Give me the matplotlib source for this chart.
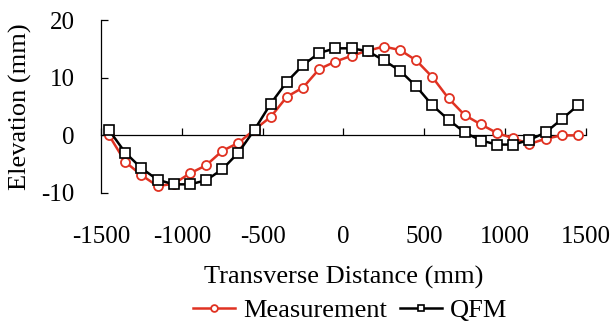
import matplotlib
matplotlib.use("Agg")
import matplotlib.pyplot as plt
import numpy as np

plt.rcParams['font.family'] = ['Liberation Serif', 'DejaVu Serif']
plt.rcParams['axes.unicode_minus'] = False

# transverse positions (mm), one reading every 100 mm
distance = np.arange(-1450, 1451, 100)

measurement = [0.0, -4.6, -6.9, -8.8, -8.4, -6.6, -5.2, -2.7, -1.3, 1.0,
               3.2, 6.7, 8.3, 11.5, 12.8, 13.8, 14.7, 15.4, 14.8, 13.0,
               10.1, 6.4, 3.5, 1.9, 0.4, -0.5, -1.5, -0.6, 0.0, 0.0]

qfm = [0.9, -3.0, -5.7, -7.7, -8.5, -8.5, -7.8, -5.9, -3.0, 1.0,
       5.5, 9.3, 12.2, 14.3, 15.1, 15.1, 14.6, 13.0, 11.2, 8.5,
       5.2, 2.7, 0.5, -0.9, -1.6, -1.6, -0.8, 0.5, 2.8, 5.2]

xticks = [-1500, -1000, -500, 0, 500, 1000, 1500]
yticks = [-10, 0, 10, 20]

red = '#E03222'

fig = plt.figure(figsize=(6.12, 3.29), dpi=100)
ax = fig.add_axes([0.165, 0.4134, 0.7925, 0.5256])

ax.plot(distance, measurement, color=red, lw=1.8, marker='o', ms=6.5,
        mfc='white', mec=red, mew=1.3, label='Measurement', zorder=3)
ax.plot(distance, qfm, color='black', lw=1.8, marker='s', ms=6.5,
        mfc='white', mec='black', mew=1.2, label='QFM', zorder=4)

ax.set_xlim(-1500, 1500)
ax.set_ylim(-10, 20)
ax.set_xticks(xticks)
ax.set_yticks(yticks)

for s in ['top', 'right']:
    ax.spines[s].set_visible(False)
ax.spines['bottom'].set_position(('data', 0))
ax.spines['bottom'].set_linewidth(0.9)
ax.spines['left'].set_linewidth(0.9)

ax.tick_params(axis='x', direction='in', length=5, width=0.9, pad=65, labelsize=18)
ax.tick_params(axis='y', direction='in', length=5, width=0.9, pad=19, labelsize=18)

ax.set_xlabel('Transverse Distance (mm)', fontsize=19, va='center')
ax.xaxis.set_label_coords(0.5, -0.49)
ax.set_ylabel('Elevation (mm)', fontsize=19, va='center')
ax.yaxis.set_label_coords(-0.167, 0.5)

fig.legend(loc='center', bbox_to_anchor=(350 / 612, 1 - 310 / 329), ncol=2,
           frameon=False, fontsize=19, handlelength=1.6, handletextpad=0.3,
           columnspacing=0.5, borderaxespad=0, markerscale=0.75)

fig.savefig('out.png', dpi=100)
